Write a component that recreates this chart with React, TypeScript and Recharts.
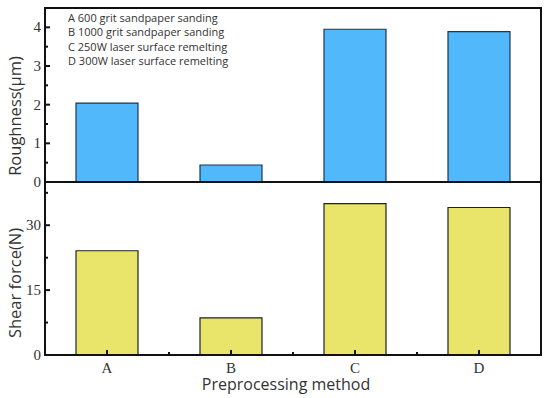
import { BarChart, Bar, XAxis, YAxis } from 'recharts'

const methods = ['A', 'B', 'C', 'D']
const roughness = [2.04, 0.44, 3.95, 3.89]
const shearForce = [24.1, 8.6, 35.0, 34.1]
const roughTicks = [0, 0.5, 1, 1.5, 2, 2.5, 3, 3.5, 4]
const roughLabels = [0, 1, 2, 3, 4]
const shearTicks = [0, 7.5, 15, 22.5, 30, 37.5]
const shearLabels = [0, 15, 30]
const notes = [
  'A 600 grit sandpaper sanding',
  'B 1000 grit sandpaper sanding',
  'C 250W laser surface remelting',
  'D 300W laser surface remelting',
]

const topData = methods.map((m, i) => ({ method: m, value: roughness[i] }))
const bottomData = methods.map((m, i) => ({ method: m, value: shearForce[i] }))

const tickFont = '"Liberation Serif", serif'
const labelFont = '"Open Sans", "Noto Sans", sans-serif'
const ink = '#333'
const frame = { stroke: '#111', strokeWidth: 2 }

function makeYTick(labels: number[]) {
  return (props: any) => {
    const { x, y, payload } = props
    const major = labels.includes(payload.value)
    return (
      <g>
        <line x1={x} x2={x + (major ? 5 : 3)} y1={y} y2={y} stroke="#111" strokeWidth={2} />
        {major && (
          <text x={x - 4} y={y} dy={5} textAnchor="end" fontSize={15} fontFamily={tickFont} fill={ink}>
            {payload.value}
          </text>
        )}
      </g>
    )
  }
}

// category tick + small tick on the boundary to its left
function XTick(props: any) {
  const { x, y, payload, index } = props
  const half = typeof payload.offset === 'number' ? payload.offset : 0
  return (
    <g>
      <line x1={x} x2={x} y1={y} y2={y - 5} stroke="#111" strokeWidth={2} />
      {index > 0 && half > 0 && <line x1={x - half} x2={x - half} y1={y} y2={y - 3} stroke="#111" strokeWidth={2} />}
      <text x={x} y={y + 18} textAnchor="middle" fontSize={15} fontFamily={tickFont} fill={ink}>
        {payload.value}
      </text>
    </g>
  )
}

export default function App() {
  return (
    <div style={{ position: 'absolute', left: 0, top: 0, width: 550, height: 398, background: '#fff' }}>
      <div style={{ position: 'absolute', left: 0, top: 0 }}>
        <BarChart width={550} height={192} data={topData} margin={{ top: 7, right: 9, left: 0, bottom: 9 }} barCategoryGap="25%">
          <XAxis dataKey="method" axisLine={frame} tick={false} tickLine={false} height={1} />
          <XAxis xAxisId="t" dataKey="method" orientation="top" axisLine={frame} tick={false} tickLine={false} height={1} />
          <YAxis
            width={45}
            domain={[0, 4.5]}
            ticks={roughTicks}
            interval={0}
            axisLine={frame}
            tickLine={false}
            tickSize={0}
            tickMargin={0}
            tick={makeYTick(roughLabels)}
          />
          <Bar dataKey="value" fill="#50b8fb" stroke="#1f3550" strokeWidth={1.2} isAnimationActive={false} />
        </BarChart>
      </div>
      <div style={{ position: 'absolute', left: 0, top: 174 }}>
        <BarChart width={550} height={224} data={bottomData} margin={{ top: 7, right: 9, left: 0, bottom: 42 }} barCategoryGap="25%">
          <XAxis
            dataKey="method"
            axisLine={frame}
            tickLine={false}
            tickSize={0}
            tickMargin={0}
            tick={XTick}
            height={1}
          />
          <XAxis xAxisId="t" dataKey="method" orientation="top" axisLine={frame} tick={false} tickLine={false} height={1} />
          <YAxis
            width={45}
            domain={[0, 40]}
            ticks={shearTicks}
            interval={0}
            axisLine={frame}
            tickLine={false}
            tickSize={0}
            tickMargin={0}
            tick={makeYTick(shearLabels)}
          />
          <Bar dataKey="value" fill="#e9e46a" stroke="#222" strokeWidth={1.2} isAnimationActive={false} />
        </BarChart>
      </div>
      <svg width={550} height={398} style={{ position: 'absolute', left: 0, top: 0, pointerEvents: 'none' }}>
        {/* side edges of the two stacked frames */}
        <line x1={45} x2={45} y1={7} y2={356} stroke="#111" strokeWidth={2} />
        <line x1={541} x2={541} y1={7} y2={356} stroke="#111" strokeWidth={2} />
        {notes.map((n, i) => (
          <text key={n} x={68} y={22 + i * 14.4} fontSize={11} fontFamily={labelFont} fill={ink}>
            {n}
          </text>
        ))}
        <text x={21} y={116} transform="rotate(-90 21 116)" textAnchor="middle" fontSize={16.5} fontFamily={labelFont} fill={ink}>
          Roughness(μm)
        </text>
        <text x={21} y={283} transform="rotate(-90 21 283)" textAnchor="middle" fontSize={16.5} fontFamily={labelFont} fill={ink}>
          Shear  force(N)
        </text>
        <text x={286} y={390} textAnchor="middle" fontSize={16} fontFamily={labelFont} fill={ink}>
          Preprocessing method
        </text>
      </svg>
    </div>
  )
}
